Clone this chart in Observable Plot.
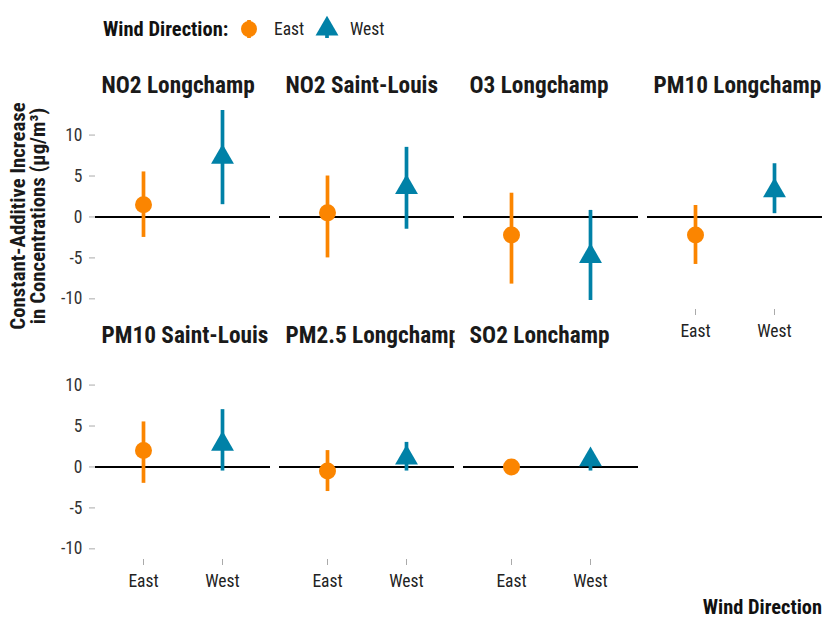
<!DOCTYPE html>
<html>
<head>
<meta charset="utf-8">
<script src="https://cdn.jsdelivr.net/npm/d3@7"></script>
<script src="https://cdn.jsdelivr.net/npm/@observablehq/plot@0.6"></script>
<style>
  body { margin: 0; background: #fff; font-family: "Roboto Condensed", "Liberation Sans Narrow", "DejaVu Sans Condensed", Roboto, sans-serif; }
  #legend { height: 56px; width: 830px; }
  #legend svg { display: block; }
  #chart svg { display: block; }
</style>
</head>
<body>
<div id="legend"></div>
<div id="chart"></div>
<script>
const FONT = '"Roboto Condensed", "Liberation Sans Narrow", "DejaVu Sans Condensed", Roboto, sans-serif';
const ORANGE = "#fb8500";
const BLUE = "#0081a7";

// ---- data ----
const panels = ["NO2 Longchamp", "NO2 Saint-Louis", "O3 Longchamp", "PM10 Longchamp",
                "PM10 Saint-Louis", "PM2.5 Longchamp", "SO2 Lonchamp"];
const directions = ["East", "West"];
const eastEstimate = [1.5, 0.5, -2.2, -2.2, 2.0, -0.5, 0.0];
const eastLower    = [-2.5, -5.0, -8.2, -5.8, -2.0, -3.0, -0.2];
const eastUpper    = [5.5, 5.0, 2.9, 1.4, 5.5, 2.0, 0.2];
const westEstimate = [7.3, 3.6, -4.8, 3.2, 2.8, 1.1, 0.9];
const westLower    = [1.5, -1.5, -10.2, 0.4, -0.5, -0.5, -0.5];
const westUpper    = [13.0, 8.5, 0.8, 6.5, 7.0, 3.0, 1.5];
const yTicks = [-10, -5, 0, 5, 10];

const panelRows = panels.map((p, i) => ({panel: p, col: i % 4, row: Math.floor(i / 4)}));
const rows = [];
panels.forEach((p, i) => {
  rows.push({panel: p, col: i % 4, row: Math.floor(i / 4), dir: "East",
             est: eastEstimate[i], lo: eastLower[i], hi: eastUpper[i]});
  rows.push({panel: p, col: i % 4, row: Math.floor(i / 4), dir: "West",
             est: westEstimate[i], lo: westLower[i], hi: westUpper[i]});
});

// ---- chart ----
const chart = Plot.plot({
  width: 830,
  height: 568,
  marginLeft: 94,
  marginRight: 8,
  marginTop: 45,
  marginBottom: 64.7,
  style: {fontFamily: FONT, fontSize: "17.5px", color: "#222", background: "#fff"},
  fx: {domain: [0, 1, 2, 3], padding: 0.05, axis: null},
  fy: {domain: [0, 1], padding: 0.1668, axis: null},
  x: {type: "point", domain: directions, padding: 0.594},
  y: {domain: [-11.3, 14.1]},
  color: {domain: directions, range: [ORANGE, BLUE]},
  symbol: {domain: directions, range: ["circle", "triangle"]},
  marks: [
    Plot.axisY({ticks: yTicks, tickFormat: d => String(d), tickSize: 6, tickPadding: 7,
                stroke: "#aaa", fill: "#333", fontSize: 17.5,
                label: null, facetAnchor: "left-empty"}),
    Plot.axisX({tickSize: 6, tickPadding: 9, stroke: "#aaa", fill: "#222", fontSize: 17.5,
                label: null, facetAnchor: "bottom-empty"}),
    Plot.ruleY(panelRows, {y: () => 0, fx: "col", fy: "row", stroke: "#000", strokeWidth: 2}),
    Plot.ruleX(rows, {x: "dir", y1: "lo", y2: "hi", stroke: "dir", strokeWidth: 3.7,
                      fx: "col", fy: "row"}),
    Plot.dot(rows, {x: "dir", y: "est", fill: "dir", symbol: "dir", r: 8.5,
                    fx: "col", fy: "row"}),
    Plot.text(panelRows, {text: "panel", fx: "col", fy: "row", frameAnchor: "top-left",
                          dx: 6, dy: -16, lineAnchor: "middle", textAnchor: "start",
                          fontWeight: "bold", fontSize: 23.3, fill: "#1a1a1a"})
  ]
});
document.getElementById("chart").appendChild(chart);

// clip facet titles to their panel width
const svg = d3.select(chart);
const panelStep = (830 - 94 - 8) / (4 - 0.05);
const innerW = panelStep * (1 - 0.05);
const defs = svg.append("defs");
defs.append("clipPath").attr("id", "titleClip").attr("clipPathUnits", "userSpaceOnUse")
  .append("rect").attr("x", -6).attr("y", -40).attr("width", innerW).attr("height", 80);
svg.selectAll('g[aria-label="text"] text').attr("clip-path", "url(#titleClip)");

// y-axis title (two lines)
const yl = svg.append("g").attr("transform", "translate(0,160) rotate(-90)")
  .attr("font-family", FONT).attr("font-weight", "bold").attr("font-size", 20.8)
  .attr("fill", "#1a1a1a").attr("text-anchor", "middle");
yl.append("text").attr("x", 0).attr("y", 25).text("Constant-Additive Increase");
yl.append("text").attr("x", 0).attr("y", 45).text("in Concentrations (µg/m³)");

// x-axis title
svg.append("text").attr("x", 822).attr("y", 558).attr("text-anchor", "end")
  .attr("font-family", FONT).attr("font-weight", "bold").attr("font-size", 20.4)
  .attr("fill", "#111").text("Wind Direction");

// ---- legend ----
const lg = d3.select("#legend").append("svg").attr("width", 830).attr("height", 56)
  .attr("font-family", FONT);
lg.append("text").attr("x", 103).attr("y", 36).attr("font-weight", "bold")
  .attr("font-size", 20.5).attr("fill", "#111").text("Wind Direction:");
lg.append("line").attr("x1", 249).attr("x2", 249).attr("y1", 20).attr("y2", 38)
  .attr("stroke", ORANGE).attr("stroke-width", 3.7);
lg.append("path").attr("transform", "translate(249,29)")
  .attr("d", d3.symbol(d3.symbolCircle, Math.PI * 8 * 8)()).attr("fill", ORANGE);
lg.append("text").attr("x", 274).attr("y", 35).attr("font-size", 17.5).attr("fill", "#222").text("East");
lg.append("line").attr("x1", 327).attr("x2", 327).attr("y1", 22).attr("y2", 38)
  .attr("stroke", BLUE).attr("stroke-width", 3.7);
lg.append("path").attr("transform", "translate(327,29)")
  .attr("d", d3.symbol(d3.symbolTriangle, Math.PI * 8.5 * 8.5)()).attr("fill", BLUE);
lg.append("text").attr("x", 350).attr("y", 35).attr("font-size", 17.5).attr("fill", "#222").text("West");
</script>
</body>
</html>
